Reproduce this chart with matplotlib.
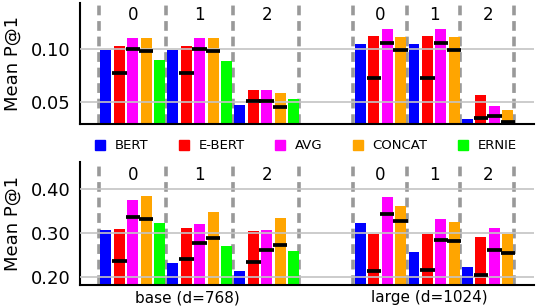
import numpy as np
import matplotlib
matplotlib.use('Agg')
import matplotlib.pyplot as plt
from matplotlib.lines import Line2D

# Modelos e cores
models = ['BERT', 'E-BERT', 'AVG', 'CONCAT', 'ERNIE']
colors = ['#0000ff', '#ff0000', '#ff00ff', '#ffa500', '#00ff00']
group_labels = ['0', '1', '2']
size_labels = ['base (d=768)', 'large (d=1024)']

# Painel de cima (valores das barras e das marcas pretas)
top_base = [[0.099, 0.1028, 0.110, 0.1106, 0.0894],
            [0.099, 0.1028, 0.110, 0.1106, 0.0890],
            [0.0472, 0.0618, 0.0616, 0.0584, 0.0531]]
top_base_marks = [[None, 0.0778, 0.0997, 0.0980, None],
                  [None, 0.0780, 0.0997, 0.0980, None],
                  [None, 0.0512, 0.0515, 0.0459, None]]
top_large = [[0.105, 0.1122, 0.119, 0.1113],
             [0.105, 0.1122, 0.119, 0.1113],
             [0.0343, 0.0566, 0.0465, 0.0431]]
top_large_marks = [[None, 0.0728, 0.1053, 0.0990],
                   [None, 0.0728, 0.1053, 0.0990],
                   [None, 0.0353, 0.0372, 0.0319]]

# Painel de baixo
bot_base = [[0.306, 0.3078, 0.3747, 0.3838, 0.3214],
            [0.2315, 0.310, 0.319, 0.347, 0.2696],
            [0.2126, 0.304, 0.306, 0.3336, 0.258]]
bot_base_marks = [[None, 0.236, 0.3365, 0.3313, None],
                  [None, 0.2406, 0.2758, 0.288, None],
                  [None, 0.2338, 0.260, 0.272, None]]
bot_large = [[0.3214, 0.297, 0.381, 0.361],
             [0.2553, 0.297, 0.332, 0.3244],
             [0.2217, 0.2895, 0.3114, 0.297]]
bot_large_marks = [[None, 0.2119, 0.3427, 0.326],
                   [None, 0.2141, 0.2833, 0.281],
                   [None, 0.204, 0.260, 0.2543]]


def draw_panel(ax, base, base_marks, large, large_marks, ylim, yticks, ytick_labels, label_y):
    starts = []
    # base: grupos de 5 barras, large: grupos de 4 barras
    for g in range(3):
        starts.append((5 * g, base[g], base_marks[g]))
    for g in range(3):
        starts.append((19 + 4 * g, large[g], large_marks[g]))

    for x0, vals, marks in starts:
        for i, v in enumerate(vals):
            xc = x0 + i + 0.55
            ax.bar(xc, v, width=0.82, color=colors[i], zorder=2)
            if marks[i] is not None:
                ax.hlines(marks[i], xc - 0.54, xc + 0.54, color='black', lw=2.7, zorder=4)

    for xd in [0, 5, 10, 15, 19, 23, 27, 31]:
        ax.axvline(xd, color='#999999', lw=2.6, dashes=(2.7, 1.6), zorder=1)

    # rótulos dos grupos no topo
    centers = [2.55, 7.55, 12.55, 21.05, 25.05, 29.05]
    for k, xc in enumerate(centers):
        ax.text(xc, label_y, group_labels[k % 3], ha='center', va='center', fontsize=12)

    for yt in yticks:
        ax.axhline(yt, color='#c4c4c4', lw=1.2, zorder=3)

    ax.set_xlim(-1.4, 32.5)
    ax.set_ylim(*ylim)
    ax.set_yticks(yticks)
    ax.set_yticklabels(ytick_labels, fontsize=13)
    ax.tick_params(axis='y', length=0, pad=7)
    ax.spines['top'].set_visible(False)
    ax.spines['right'].set_visible(False)
    ax.spines['left'].set_linewidth(1.5)
    ax.spines['bottom'].set_linewidth(1.5)
    ax.set_ylabel('Mean P@1', fontsize=13)
    ax.yaxis.set_label_coords(-0.128, 0.5)


def main():
    fig = plt.figure(figsize=(5.36, 3.08), dpi=100)
    ax1 = fig.add_axes([0.149, 0.596, 0.847, 0.395])
    ax2 = fig.add_axes([0.149, 0.076, 0.847, 0.397])

    draw_panel(ax1, top_base, top_base_marks, top_large, top_large_marks,
               (0.0294, 0.1434), [0.05, 0.10], ['0.05', '0.10'], 0.1323)
    ax1.set_xticks([])

    draw_panel(ax2, bot_base, bot_base_marks, bot_large, bot_large_marks,
               (0.1817, 0.461), [0.20, 0.30, 0.40], ['0.20', '0.30', '0.40'], 0.4310)
    ax2.set_xticks([6.65, 24.7])
    ax2.set_xticklabels(size_labels, fontsize=11)
    ax2.tick_params(axis='x', length=0, pad=4)

    handles = [Line2D([0], [0], marker='s', linestyle='none', color=c,
                      markersize=7) for c in colors]
    fig.legend(handles, models, loc='center', bbox_to_anchor=(0.569, 0.527), ncol=5,
               frameon=False, fontsize=9.5, handlelength=1.0, handletextpad=0.6,
               columnspacing=2.2)

    fig.savefig('out.png', dpi=100)


if __name__ == "__main__":
    main()
